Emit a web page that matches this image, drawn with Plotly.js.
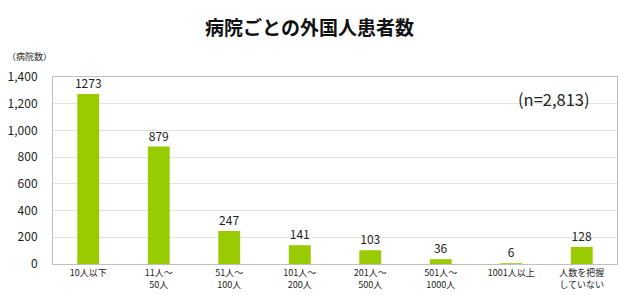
<!DOCTYPE html>
<html><head><meta charset="utf-8">
<script src="https://cdn.plot.ly/plotly-3.0.1.min.js"></script>
<style>html,body{margin:0;padding:0;background:#fff}#c{width:619px;height:295px}</style>
</head><body><div id="c"></div>
<script>
const categories = ["10人以下", "11人～<br>50人", "51人～<br>100人", "101人～<br>200人", "201人～<br>500人", "501人～<br>1000人", "1001人以上", "人数を把握<br>していない"];
const hospitals = [1273, 879, 247, 141, 103, 36, 6, 128];
const yTicks = [0, 200, 400, 600, 800, 1000, 1200, 1400];
const yTickText = ["0", "200", "400", "600", "800", "1,000", "1,200", "1,400"];

const font = "'Noto Sans CJK JP', 'DejaVu Sans', sans-serif";
Plotly.newPlot("c", [{
  type: "bar",
  x: categories,
  y: hospitals,
  marker: {color: "#99CC00"},
  text: hospitals.map(String),
  textposition: "outside",
  constraintext: "none",
  cliponaxis: false,
  textfont: {family: font, size: 12, color: "#222"},
  hoverinfo: "none"
}], {
  width: 619, height: 295,
  margin: {l: 53, r: 2, t: 77, b: 31},
  paper_bgcolor: "#fff", plot_bgcolor: "#fff",
  bargap: 0.69,
  showlegend: false,
  title: {text: "<b>病院ごとの外国人患者数</b>", font: {family: font, size: 19, color: "#111"}, x: 0.5, xanchor: "center", y: 0.905, yanchor: "middle"},
  xaxis: {
    tickfont: {family: font, size: 9, color: "#222"},
    showline: true, linecolor: "#bfbfbf", mirror: true,
    ticks: "", fixedrange: true
  },
  yaxis: {
    range: [0, 1400], tickvals: yTicks, ticktext: yTickText,
    tickfont: {family: font, size: 12, color: "#222"},
    showgrid: true, gridcolor: "#e3e3e3",
    showline: true, linecolor: "#bfbfbf", mirror: true,
    zeroline: false, ticks: "", ticklabelstandoff: 12, fixedrange: true
  },
  annotations: [
    {text: "（病院数）", xref: "paper", yref: "paper", x: -0.085, y: 1.11, xanchor: "left", yanchor: "middle", showarrow: false, font: {family: font, size: 9, color: "#222"}},
    {text: "(n=2,813)", xref: "paper", yref: "paper", x: 0.955, y: 0.885, xanchor: "right", yanchor: "middle", showarrow: false, font: {family: font, size: 16.5, color: "#222"}}
  ]
}, {displayModeBar: false, staticPlot: true});
</script></body></html>
